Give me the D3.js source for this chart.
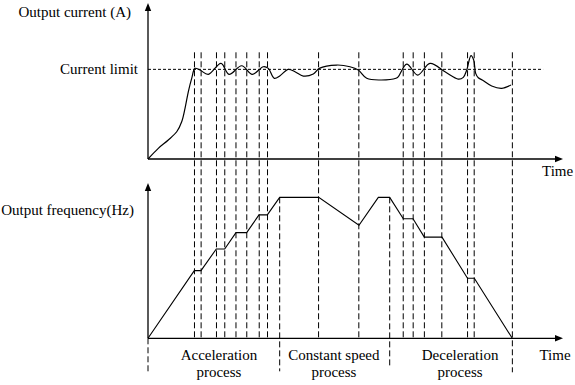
<!DOCTYPE html>
<html><head><meta charset="utf-8">
<script src="https://cdn.jsdelivr.net/npm/d3@7"></script>
<style>
html,body{margin:0;padding:0;background:#fff;}
</style></head>
<body><svg id="c" width="575" height="385"></svg>
<script>
// ---- data (time in arbitrary units 0..100) ----
const currentTime = [0,2.48,4.89,6.92,8.12,8.92,9.71,10.53,11.33,12.53,14.53,17.59,19.52,22.58,25.13,27.78,28.99,30.43,31.81,33.81,35.42,37.42,39.83,41.28,45.47,48.67,50.67,52.7,55.9,59.76,60.31,62.34,64.99,67.95,71.57,74.77,75.98,76.8,77.83,78.48,78.96,79.59,80.55,82.82,85.23,87.47];
const currentValue = [0,11.9,21.2,30.4,41.6,56.5,75,90,101.1,99.2,94.4,106.7,94.4,104,94.4,102.9,101.1,90,92.9,100,97.3,92.5,94.8,101.1,104.8,102.9,99.2,90,88.1,90,91.8,105.9,93.6,106.7,97.3,89.2,91.1,99.2,115.2,110.4,95.5,90.6,88.1,81.4,78.8,82.5];
const currentLimit = 100;
const freqTime = [0,11.16,12.77,16.46,18.48,21.2,23.78,26.75,28.75,31.73,41.13,50.84,55.5,58.24,61.52,63.86,66.58,70.84,76.99,78.63,87.78];
const freqValue = [0,24,24,31.7,31.7,37.5,37.5,43.8,43.8,50,50,40.1,50,50,42.4,42.4,35.9,35.9,21.3,21.3,0];
const markerTimes = [11.2,12.8,16.5,18.5,21.2,23.8,26.8,28.8,41.1,50.8,61.5,63.9,66.6,70.8,77.0,78.6,87.8];
const phaseBounds = [0,31.73,58.24,87.78];
const phaseTop = [0,50,50,null];
const phaseLabels = [["Acceleration","process"],["Constant speed","process"],["Deceleration","process"]];
const phaseCenters = [17.1,44.8,75.2];

const svg = d3.select("#c");
const x = d3.scaleLinear().domain([0,100]).range([148,563]);
const yTop = d3.scaleLinear().domain([0,174]).range([159,3]);
const yBot = d3.scaleLinear().domain([0,55.1]).range([338.3,183]);

const ink = "#000";
function label(xp, yp, str, anchor){
  return svg.append("text").attr("x",xp).attr("y",yp).attr("text-anchor",anchor||"start")
    .style("font-family",'"Liberation Serif"').style("font-size","15px").attr("fill",ink).text(str);
}

// vertical dashed markers spanning both panels
svg.append("g").selectAll("line").data(markerTimes).join("line")
  .attr("x1",d=>x(d)).attr("x2",d=>x(d))
  .attr("y1",yTop(119)).attr("y2",d=>d===87.8?yBot(0)+34:yBot(0))
  .attr("stroke",ink).attr("stroke-width",1).attr("stroke-dasharray","6,3");
// phase boundaries
svg.append("g").selectAll("line").data(phaseBounds.map((t,i)=>({t,i})).filter(d=>d.i!==3)).join("line")
  .attr("x1",d=>x(d.t)).attr("x2",d=>x(d.t))
  .attr("y1",d=>d.i===0?yBot(0):yBot(phaseTop[d.i]))
  .attr("y2",d=>yBot(0)+ (d.i===2?29:33))
  .attr("stroke",ink).attr("stroke-width",1).attr("stroke-dasharray","6,3");

// current limit
svg.append("line").attr("x1",x(0)).attr("x2",x(95.2))
  .attr("y1",yTop(currentLimit)).attr("y2",yTop(currentLimit))
  .attr("stroke",ink).attr("stroke-width",1).attr("stroke-dasharray","3,2");

// axes
function axes(ys, topVal){
  const g = svg.append("g");
  g.append("line").attr("x1",x(0)).attr("x2",x(100)-6).attr("y1",ys(0)).attr("y2",ys(0)).attr("stroke",ink).attr("stroke-width",1.3);
  g.append("line").attr("x1",x(0)).attr("x2",x(0)).attr("y1",ys(0)).attr("y2",ys(topVal)+6).attr("stroke",ink).attr("stroke-width",1.3);
  const tx=x(100), ty=ys(0);
  g.append("path").attr("d",`M${tx},${ty}L${tx-8},${ty-3.2}L${tx-8},${ty+3.2}Z`).attr("fill",ink);
  const ax=x(0), ay=ys(topVal);
  g.append("path").attr("d",`M${ax},${ay}L${ax-3.2},${ay+8}L${ax+3.2},${ay+8}Z`).attr("fill",ink);
}
axes(yTop,174);
axes(yBot,55.1);

// current curve
const cLine = d3.line().x((d,i)=>x(currentTime[i])).y((d,i)=>yTop(currentValue[i])).curve(d3.curveCatmullRom.alpha(0.5));
svg.append("path").attr("d",cLine(currentValue)).attr("fill","none").attr("stroke",ink).attr("stroke-width",1.2);
// frequency curve
const fLine = d3.line().x((d,i)=>x(freqTime[i])).y((d,i)=>yBot(freqValue[i]));
svg.append("path").attr("d",fLine(freqValue)).attr("fill","none").attr("stroke",ink).attr("stroke-width",1.1);

// texts
label(131,17,"Output current (A)","end");
label(138,yTop(currentLimit)+5,"Current limit","end");
label(134,215,"Output frequency(Hz)","end");
label(542,176,"Time");
label(555,360,"Time","middle");
phaseLabels.forEach((lab,i)=>{
  label(x(phaseCenters[i]),360,lab[0],"middle");
  label(x(phaseCenters[i]),377,lab[1],"middle");
});
</script></body></html>
